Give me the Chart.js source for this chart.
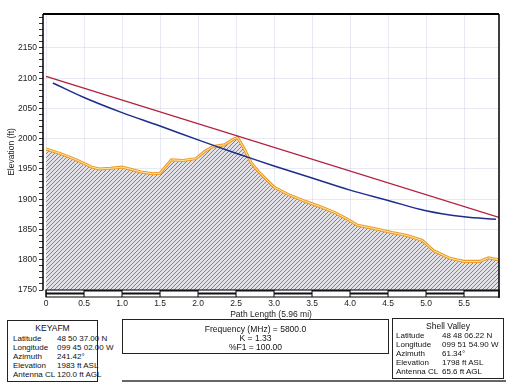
<!DOCTYPE html>
<html>
<head>
<meta charset="utf-8">
<script src="https://cdn.jsdelivr.net/npm/chart.js@4.4.0/dist/chart.umd.min.js"></script>
<style>
  body { margin: 0; background: #fff; font-family: "Liberation Sans", Arial, sans-serif; }
  #wrap { position: relative; width: 512px; height: 384px; }
  #chartBox { position: absolute; left: 0; top: 0; width: 512px; height: 320px; }
  .box { position: absolute; border: 1.5px solid #222; box-sizing: border-box; font-size: 8px; color: #111; }
  .box .t { position: absolute; width: 100%; text-align: center; font-size: 8.5px; }
  .row { position: absolute; white-space: nowrap; }
</style>
</head>
<body>
<div id="wrap">
  <div id="chartBox"><canvas id="profileChart" width="512" height="320"></canvas></div>

  <div class="box" style="left:7px; top:320px; width:91px; height:62px;">
    <div class="t" style="top:2px;">KEYAFM</div>
    <div class="row" style="left:5px; top:13px;">Latitude</div><div class="row" style="left:49px; top:13px;">48 50 37.00 N</div>
    <div class="row" style="left:5px; top:22px;">Longitude</div><div class="row" style="left:49px; top:22px;">099 45 02.00 W</div>
    <div class="row" style="left:5px; top:31px;">Azimuth</div><div class="row" style="left:49px; top:31px;">241.42°</div>
    <div class="row" style="left:5px; top:40px;">Elevation</div><div class="row" style="left:49px; top:40px;">1983 ft ASL</div>
    <div class="row" style="left:5px; top:49px;">Antenna CL</div><div class="row" style="left:49px; top:49px;">120.0 ft AGL</div>
  </div>

  <div class="box" style="left:122px; top:319px; width:267px; height:35px;">
    <div class="t" style="top:4px;">Frequency (MHz) = 5800.0</div>
    <div class="t" style="top:13px;">K = 1.33</div>
    <div class="t" style="top:22px;">%F1 = 100.00</div>
  </div>

  <div class="box" style="left:392px; top:318px; width:112px; height:61px;">
    <div class="t" style="top:2px;">Shell Valley</div>
    <div class="row" style="left:3px; top:12px;">Latitude</div><div class="row" style="left:49px; top:12px;">48 48 06.22 N</div>
    <div class="row" style="left:3px; top:21px;">Longitude</div><div class="row" style="left:49px; top:21px;">099 51 54.90 W</div>
    <div class="row" style="left:3px; top:30px;">Azimuth</div><div class="row" style="left:49px; top:30px;">61.34°</div>
    <div class="row" style="left:3px; top:39px;">Elevation</div><div class="row" style="left:49px; top:39px;">1798 ft ASL</div>
    <div class="row" style="left:3px; top:48px;">Antenna CL</div><div class="row" style="left:49px; top:48px;">65.6 ft AGL</div>
  </div>
  <div style="position:absolute; left:122px; top:380px; width:384px; height:2px; background:#666;"></div>
</div>

<script>
// terrain profile (mi, ft)
const terrainDist = [0.00, 0.20, 0.40, 0.60, 0.70, 0.85, 1.00, 1.10, 1.25, 1.40, 1.50, 1.58, 1.65, 1.80, 1.97, 2.10, 2.20, 2.35, 2.45, 2.52, 2.60, 2.70, 2.80, 3.00, 3.20, 3.40, 3.60, 3.80, 3.95, 4.10, 4.30, 4.55, 4.75, 4.95, 5.10, 5.30, 5.50, 5.70, 5.82, 5.96];
const terrainElev = [1983, 1975, 1965, 1953, 1950, 1951, 1953, 1950, 1945, 1942, 1943, 1955, 1965, 1964, 1967, 1980, 1987, 1990, 1998, 2002, 1985, 1960, 1945, 1920, 1907, 1897, 1888, 1878, 1868, 1857, 1852, 1845, 1840, 1832, 1815, 1803, 1797, 1797, 1803, 1800];

// line of sight (red)
const losDist = [0, 5.96];
const losElev = [2103, 1870];

// fresnel / curvature line (blue)
const fresnelDist = [0.09, 0.5, 1.0, 1.5, 2.0, 2.5, 3.0, 3.5, 4.0, 4.5, 5.0, 5.5, 5.92];
const fresnelElev = [2092, 2068, 2043, 2021, 1998, 1976, 1955, 1935, 1915, 1898, 1881, 1871, 1867];

const xTicks = [0, 0.5, 1.0, 1.5, 2.0, 2.5, 3.0, 3.5, 4.0, 4.5, 5.0, 5.5];
const xTickLabels = ["0", "0.5", "1.0", "1.5", "2.0", "2.5", "3.0", "3.5", "4.0", "4.5", "5.0", "5.5"];

function pts(xs, ys) {
    return xs.map((x, i) => ({ x: x, y: ys[i] }));
}

// hatch pattern for the ground
const pc = document.createElement('canvas');
pc.width = 4; pc.height = 4;
const pctx = pc.getContext('2d');
pctx.fillStyle = '#e2e1e8';
pctx.fillRect(0, 0, 4, 4);
pctx.strokeStyle = '#77777d';
pctx.lineWidth = 0.9;
pctx.beginPath();
pctx.moveTo(0, 4); pctx.lineTo(4, 0);
pctx.moveTo(-1, 1); pctx.lineTo(1, -1);
pctx.moveTo(3, 5); pctx.lineTo(5, 3);
pctx.stroke();
const ctx = document.getElementById('profileChart').getContext('2d');
const hatch = ctx.createPattern(pc, 'repeat');

// frame + distance strip under the plot
const framePlugin = {
    id: 'frame',
    afterDraw(chart) {
        const a = chart.chartArea;
        const xs = chart.scales.x;
        const c = chart.ctx;
        c.save();
        c.strokeStyle = '#000';
        c.lineWidth = 2;
        c.beginPath();
        c.moveTo(a.left, a.top); c.lineTo(a.right, a.top);
        c.stroke();
        c.lineWidth = 1.5;
        c.beginPath();
        c.moveTo(a.right, a.top); c.lineTo(a.right, a.bottom + 8);
        c.moveTo(a.left, a.top); c.lineTo(a.left, a.bottom);
        c.stroke();
        const y0 = a.bottom, y1 = a.bottom + 7;
        c.lineWidth = 1;
        c.strokeRect(xs.getPixelForValue(0), y0, a.right - xs.getPixelForValue(0), y1 - y0);
        for (let i = 0; i < xTicks.length; i++) {
            const xa = xs.getPixelForValue(xTicks[i]);
            const xb = i + 1 < xTicks.length ? xs.getPixelForValue(xTicks[i + 1]) : a.right;
            c.beginPath(); c.moveTo(xa, y0); c.lineTo(xa, y1); c.stroke();
            c.fillStyle = '#111';
            if (i % 2 === 0) c.fillRect(xa, y0 + 2.5, xb - xa, 2);
            else c.fillRect(xa, y0, xb - xa, 1.5);
        }
        c.restore();
    }
};

new Chart(ctx, {
    type: 'line',
    data: {
        datasets: [
            {
                label: 'Fresnel',
                data: pts(fresnelDist, fresnelElev),
                borderColor: '#1e2d8c',
                borderWidth: 1.5,
                pointRadius: 0,
                tension: 0.4,
                fill: false,
                order: 1
            },
            {
                label: 'Line of sight',
                data: pts(losDist, losElev),
                borderColor: '#b3203a',
                borderWidth: 1.3,
                pointRadius: 0,
                fill: false,
                order: 0
            },
            {
                label: 'Terrain edge',
                data: pts(terrainDist, terrainElev),
                borderColor: '#fbe9a0',
                borderWidth: 1,
                pointRadius: 0,
                fill: false,
                order: 2
            },
            {
                label: 'Terrain',
                data: pts(terrainDist, terrainElev),
                borderColor: '#ee9a28',
                borderWidth: 3,
                backgroundColor: hatch,
                pointRadius: 0,
                fill: 'start',
                order: 3
            }
        ]
    },
    options: {
        responsive: false,
        animation: false,
        layout: { padding: { top: 14, right: 13, left: 0, bottom: 0 } },
        plugins: {
            legend: { display: false },
            tooltip: { enabled: false }
        },
        scales: {
            x: {
                type: 'linear',
                min: -0.04,
                max: 5.96,
                afterBuildTicks(axis) {
                    axis.ticks = xTicks.map(v => ({ value: v }));
                },
                afterFit(axis) { axis.height = 30; },
                border: { display: false },
                grid: { color: 'rgba(150,160,200,0.22)', drawTicks: false },
                ticks: {
                    padding: 9,
                    color: '#222',
                    font: { family: 'Liberation Sans', size: 8.5 },
                    callback: (v) => { const i = xTicks.indexOf(v); return i >= 0 ? xTickLabels[i] : ''; }
                },
                title: {
                    display: true,
                    text: 'Path Length (5.96 mi)',
                    color: '#222',
                    font: { family: 'Liberation Sans', size: 8.5 },
                    padding: { top: 1, bottom: 0 }
                }
            },
            y: {
                min: 1750,
                max: 2206,
                afterBuildTicks(axis) {
                    const t = [];
                    for (let v = 1750; v <= 2200; v += 10) t.push({ value: v });
                    axis.ticks = t;
                },
                afterFit(axis) { axis.width = 43; },
                border: { display: false },
                grid: {
                    color: (c) => (c.tick && c.tick.value % 50 === 0 && c.tick.value < 2200) ? 'rgba(150,160,200,0.22)' : 'rgba(0,0,0,0)',
                    tickColor: '#333',
                    tickLength: 4,
                    drawTicks: true
                },
                ticks: {
                    padding: 2,
                    color: '#222',
                    font: { family: 'Liberation Sans', size: 8.5 },
                    autoSkip: false,
                    callback: (v) => (v % 50 === 0 && v < 2200) ? String(v) : ''
                },
                title: {
                    display: true,
                    text: 'Elevation (ft)',
                    color: '#222',
                    font: { family: 'Liberation Sans', size: 8.5 },
                    padding: { top: 7, bottom: 0 }
                }
            }
        }
    },
    plugins: [framePlugin]
});
</script>
</body>
</html>
